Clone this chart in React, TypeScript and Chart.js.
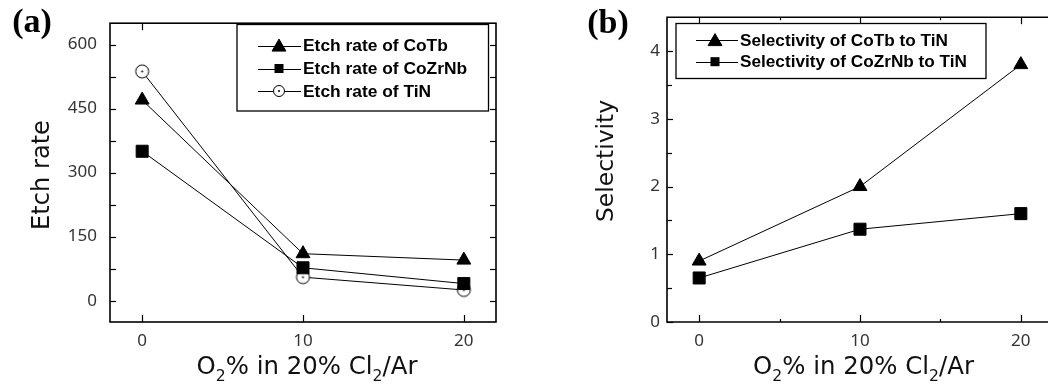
import React, { useEffect, useRef } from 'react';
import { Chart, registerables } from 'chart.js';

Chart.register(...registerables);

// ---------- data ----------
const o2Percent = [0, 10, 20];
const etchRateCoTb = [470, 110, 95];
const etchRateCoZrNb = [350, 77, 40];
const etchRateTiN = [537, 55, 25];
const etchLegendLabels = ['Etch rate of CoTb', 'Etch rate of CoZrNb', 'Etch rate of TiN'];
const etchMajorTicks = [0, 150, 300, 450, 600];
const etchMinorTicks = [75, 225, 375, 525];

const selectivityCoTb = [0.9, 2.0, 3.8];
const selectivityCoZrNb = [0.65, 1.37, 1.6];
const selLegendLabels = ['Selectivity of CoTb to TiN', 'Selectivity of CoZrNb to TiN'];
const selMajorTicks = [0, 1, 2, 3, 4];
const selMinorTicks = [0.5, 1.5, 2.5, 3.5];

const xMajorTicks = [0, 10, 20];
const xMinorTicksB = [5, 15];

const xTitleParts: [string, boolean][] = [
  ['O', false], ['2', true], ['% in 20% Cl', false], ['2', true], ['/Ar', false],
];
const etchYTitle = 'Etch rate';
const selYTitle = 'Selectivity';
const panelLabels = ['(a)', '(b)'];

// ---------- helpers ----------
const TICK_FONT = { family: '"Noto Sans", sans-serif', size: 17 };
const TICK_COLOR = '#333';
const TITLE_FAMILY = '"DejaVu Sans", sans-serif';
const LEGEND_FAMILY = '"Liberation Sans", Arial, sans-serif';

function fitSize(ctx: CanvasRenderingContext2D, text: string, weight: string, family: string, target: number) {
  ctx.font = `${weight} 20px ${family}`;
  const w = ctx.measureText(text).width;
  return (20 * target) / w;
}

function makeDotCircle(r: number) {
  const size = 17;
  const c = document.createElement('canvas');
  c.width = size; c.height = size;
  const g = c.getContext('2d')!;
  g.beginPath(); g.arc(size / 2, size / 2, r, 0, Math.PI * 2);
  g.fillStyle = '#fff'; g.fill();
  g.lineWidth = 1; g.strokeStyle = '#000'; g.stroke();
  g.beginPath(); g.arc(size / 2, size / 2, 1, 0, Math.PI * 2);
  g.fillStyle = '#000'; g.fill();
  return c;
}

function drawMarker(ctx: CanvasRenderingContext2D, kind: string, x: number, y: number, s: number) {
  ctx.save();
  ctx.fillStyle = '#000'; ctx.strokeStyle = '#000'; ctx.lineWidth = 1;
  if (kind === 'triangle') {
    ctx.beginPath();
    for (let i = 0; i < 3; i++) {
      const ang = (i * 2 * Math.PI) / 3;
      const px = x + Math.sin(ang) * s, py = y - Math.cos(ang) * s + s * 0.2;
      if (i === 0) ctx.moveTo(px, py); else ctx.lineTo(px, py);
    }
    ctx.closePath(); ctx.fill(); ctx.stroke();
  } else if (kind === 'rect') {
    ctx.fillRect(x - s / 2, y - s / 2, s, s);
  } else {
    ctx.beginPath(); ctx.arc(x, y, s, 0, Math.PI * 2);
    ctx.fillStyle = '#fff'; ctx.fill(); ctx.stroke();
    ctx.beginPath(); ctx.arc(x, y, 1, 0, Math.PI * 2);
    ctx.fillStyle = '#000'; ctx.fill();
  }
  ctx.restore();
}

function drawSubText(ctx: CanvasRenderingContext2D, parts: [string, boolean][], cx: number, base: number, target: number) {
  const measure = (size: number) => {
    let t = 0;
    for (const [txt, s] of parts) {
      ctx.font = `${s ? size * 0.64 : size}px ${TITLE_FAMILY}`;
      t += ctx.measureText(txt).width;
    }
    return t;
  };
  const size = (20 * target) / measure(20);
  const total = measure(size);
  let x = cx - total / 2;
  ctx.textAlign = 'left'; ctx.textBaseline = 'alphabetic';
  for (const [t, s] of parts) {
    ctx.font = `${s ? size * 0.64 : size}px ${TITLE_FAMILY}`;
    ctx.fillText(t, x, s ? base + size * 0.3 : base);
    x += ctx.measureText(t).width;
  }
}

interface DecorCfg {
  yMajor: number[]; yMinor: number[]; xMajor: number[]; xMinor: number[];
  yMajorLen: number; yMinorLen: number; xMajorLen: number; xMinorLen: number;
  rightSide: boolean;
  yTitle: string; yTitleX: number; yTitleY: number; yTitleWidth: number;
  xTitleX: number; xTitleBase: number; xTitleWidth: number;
  label: string; labelX: number; labelBase: number;
  legendBox: [number, number, number, number];
  legendRows: number[]; legendLine: [number, number]; legendMarkerX: number; legendTextX: number;
  legendLabels: string[]; legendMarkers: string[]; legendFitIndex: number; legendFitWidth: number;
}

function makeDecor(cfg: DecorCfg) {
  return {
    id: 'decor',
    afterDraw(chart: any) {
      const { ctx, chartArea: a, scales } = chart;
      const xs = scales.x, ys = scales.y;
      ctx.save();
      ctx.strokeStyle = '#000';
      ctx.lineWidth = 1.2;
      const seg = (x1: number, y1: number, x2: number, y2: number) => {
        ctx.beginPath(); ctx.moveTo(x1, y1); ctx.lineTo(x2, y2); ctx.stroke();
      };
      const yTicks = (vals: number[], len: number) => {
        for (const v of vals) {
          const y = Math.round(ys.getPixelForValue(v)) + 0.5;
          seg(a.left, y, a.left + len, y);
          if (cfg.rightSide) seg(a.right, y, a.right - len, y);
        }
      };
      const xTicks = (vals: number[], len: number) => {
        for (const v of vals) {
          const x = Math.round(xs.getPixelForValue(v)) + 0.5;
          seg(x, a.bottom, x, a.bottom - len);
          seg(x, a.top, x, a.top + len);
        }
      };
      yTicks(cfg.yMajor, cfg.yMajorLen);
      yTicks(cfg.yMinor, cfg.yMinorLen);
      xTicks(cfg.xMajor, cfg.xMajorLen);
      xTicks(cfg.xMinor, cfg.xMinorLen);
      ctx.lineWidth = 1.6;
      if (cfg.rightSide) {
        ctx.strokeRect(a.left, a.top, a.right - a.left, a.bottom - a.top);
      } else {
        ctx.beginPath();
        ctx.moveTo(a.right + 10, a.top); ctx.lineTo(a.left, a.top);
        ctx.lineTo(a.left, a.bottom); ctx.lineTo(a.right + 10, a.bottom);
        ctx.stroke();
      }

      // legend
      const [bx1, by1, bx2, by2] = cfg.legendBox;
      ctx.fillStyle = '#fff';
      ctx.fillRect(bx1, by1, bx2 - bx1, by2 - by1);
      ctx.lineWidth = 1.3;
      ctx.strokeRect(bx1, by1, bx2 - bx1, by2 - by1);
      ctx.lineWidth = 1;
      const lsize = fitSize(ctx, cfg.legendLabels[cfg.legendFitIndex], 'bold', LEGEND_FAMILY, cfg.legendFitWidth);
      cfg.legendLabels.forEach((lab, i) => {
        const y = cfg.legendRows[i];
        seg(cfg.legendLine[0], Math.round(y) + 0.5, cfg.legendLine[1], Math.round(y) + 0.5);
        const k = cfg.legendMarkers[i];
        drawMarker(ctx, k, cfg.legendMarkerX, y, k === 'triangle' ? 8 : k === 'rect' ? 9 : 5.5);
        ctx.fillStyle = '#000';
        ctx.font = `bold ${lsize}px ${LEGEND_FAMILY}`;
        ctx.textAlign = 'left'; ctx.textBaseline = 'middle';
        ctx.fillText(lab, cfg.legendTextX, y + 1);
      });

      // titles
      ctx.fillStyle = '#111';
      drawSubText(ctx, xTitleParts, cfg.xTitleX, cfg.xTitleBase, cfg.xTitleWidth);
      const ysize = fitSize(ctx, cfg.yTitle, 'normal', TITLE_FAMILY, cfg.yTitleWidth);
      ctx.save();
      ctx.translate(cfg.yTitleX, cfg.yTitleY);
      ctx.rotate(-Math.PI / 2);
      ctx.font = `${ysize}px ${TITLE_FAMILY}`;
      ctx.textAlign = 'center'; ctx.textBaseline = 'middle';
      ctx.fillText(cfg.yTitle, 0, 0);
      ctx.restore();

      ctx.fillStyle = '#000';
      ctx.font = 'bold 34px "Liberation Serif", "Times New Roman", serif';
      ctx.textAlign = 'center'; ctx.textBaseline = 'alphabetic';
      ctx.fillText(cfg.label, cfg.labelX, cfg.labelBase);
      ctx.restore();
    },
  };
}

function scaleX(major: number[], areaHeight: number, pad: number) {
  return {
    type: 'linear' as const,
    min: -2, max: 22,
    afterBuildTicks: (ax: any) => { ax.ticks = major.map((v) => ({ value: v })); },
    afterFit: (ax: any) => { ax.height = areaHeight; },
    grid: { display: false, drawTicks: false },
    border: { display: false },
    ticks: { font: TICK_FONT, color: TICK_COLOR, padding: pad, maxRotation: 0, autoSkip: false },
  };
}

function scaleY(min: number, max: number, major: number[], width: number, pad: number) {
  return {
    type: 'linear' as const,
    min, max,
    afterBuildTicks: (ax: any) => { ax.ticks = major.map((v) => ({ value: v })); },
    afterFit: (ax: any) => { ax.width = width; },
    grid: { display: false, drawTicks: false },
    border: { display: false },
    ticks: { font: TICK_FONT, color: TICK_COLOR, padding: pad, autoSkip: false },
  };
}

const pts = (ys: number[]) => o2Percent.map((x, i) => ({ x, y: ys[i] }));

export default function App() {
  const refA = useRef<HTMLCanvasElement>(null);
  const refB = useRef<HTMLCanvasElement>(null);

  useEffect(() => {
    const dot = makeDotCircle(6.5);
    const lineDs = (label: string, data: any, style: any, radius: number) => ({
      label, data, borderColor: '#000', borderWidth: 1, backgroundColor: '#000',
      pointStyle: style, pointRadius: radius, pointBorderColor: '#000', pointBackgroundColor: '#000',
      pointBorderWidth: 1, tension: 0, fill: false,
    });

    const chartA = new Chart(refA.current!, {
      type: 'line',
      data: {
        datasets: [
          lineDs(etchLegendLabels[0], pts(etchRateCoTb), 'triangle', 8),
          lineDs(etchLegendLabels[1], pts(etchRateCoZrNb), 'rect', 8.5),
          lineDs(etchLegendLabels[2], pts(etchRateTiN), dot, 6.5),
        ],
      },
      options: {
        animation: false, responsive: false, maintainAspectRatio: false,
        layout: { padding: { left: 0, top: 15, right: 24, bottom: 0 } },
        plugins: { legend: { display: false }, tooltip: { enabled: false } },
        scales: {
          x: scaleX(xMajorTicks, 65, 9),
          y: scaleY(-50, 650, etchMajorTicks, 110, 13),
        },
      },
      plugins: [makeDecor({
        yMajor: etchMajorTicks, yMinor: etchMinorTicks, xMajor: xMajorTicks, xMinor: [],
        yMajorLen: 6, yMinorLen: 6, xMajorLen: 7, xMinorLen: 4,
        rightSide: true,
        yTitle: etchYTitle, yTitleX: 43, yTitleY: 175, yTitleWidth: 110,
        xTitleX: 307, xTitleBase: 374, xTitleWidth: 221,
        label: panelLabels[0], labelX: 32, labelBase: 32,
        legendBox: [237, 24.5, 488.5, 111],
        legendRows: [45.5, 68.5, 91], legendLine: [258, 301], legendMarkerX: 279, legendTextX: 303,
        legendLabels: etchLegendLabels, legendMarkers: ['triangle', 'rect', 'circle'],
        legendFitIndex: 0, legendFitWidth: 145,
      })],
    } as any);

    const chartB = new Chart(refB.current!, {
      type: 'line',
      data: {
        datasets: [
          lineDs(selLegendLabels[0], pts(selectivityCoTb), 'triangle', 8),
          lineDs(selLegendLabels[1], pts(selectivityCoZrNb), 'rect', 8.5),
        ],
      },
      options: {
        animation: false, responsive: false, maintainAspectRatio: false,
        layout: { padding: { left: 0, top: 14.5, right: 12, bottom: 0 } },
        plugins: { legend: { display: false }, tooltip: { enabled: false } },
        scales: {
          x: scaleX(xMajorTicks, 65, 9),
          y: scaleY(0, 4.5, selMajorTicks, 147, 7),
        },
      },
      plugins: [makeDecor({
        yMajor: selMajorTicks, yMinor: selMinorTicks, xMajor: xMajorTicks, xMinor: xMinorTicksB,
        yMajorLen: 6, yMinorLen: 5, xMajorLen: 7, xMinorLen: 3,
        rightSide: false,
        yTitle: selYTitle, yTitleX: 87, yTitleY: 161, yTitleWidth: 122,
        xTitleX: 343.5, xTitleBase: 374, xTitleWidth: 221,
        label: panelLabels[1], labelX: 88, labelBase: 33,
        legendBox: [156, 23.5, 466, 78.5],
        legendRows: [40, 61.7], legendLine: [176, 218], legendMarkerX: 195, legendTextX: 220,
        legendLabels: selLegendLabels, legendMarkers: ['triangle', 'rect'],
        legendFitIndex: 1, legendFitWidth: 227,
      })],
    } as any);

    return () => { chartA.destroy(); chartB.destroy(); };
  }, []);

  return (
    <div style={{ position: 'absolute', left: 0, top: 0, width: 1048, height: 387, overflow: 'hidden', background: '#fff' }}>
      <canvas ref={refA} width={520} height={387} style={{ position: 'absolute', left: 0, top: 0 }} />
      <canvas ref={refB} width={545} height={387} style={{ position: 'absolute', left: 520, top: 0 }} />
    </div>
  );
}
